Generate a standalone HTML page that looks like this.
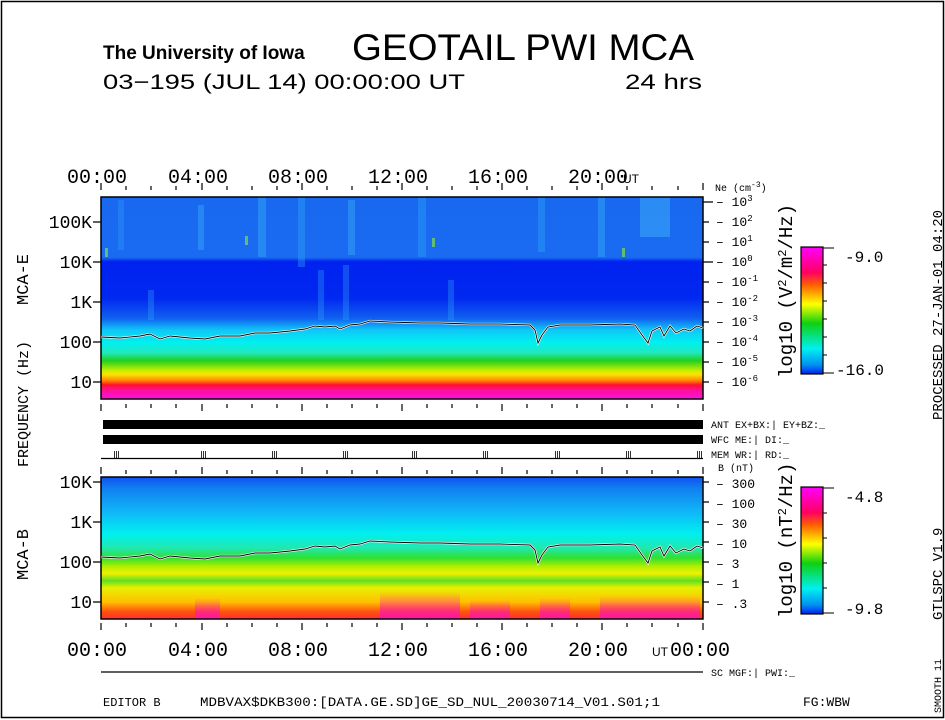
<!DOCTYPE html>
<html><head><meta charset="utf-8"><style>
html,body{margin:0;padding:0;background:#fff;}
svg{display:block;}
text{font-family:"Liberation Sans",sans-serif;fill:#000;}
.m text, text.m{font-family:"Liberation Mono",monospace;}
</style></head><body>
<svg width="945" height="720" viewBox="0 0 945 720" xmlns="http://www.w3.org/2000/svg">
<defs>
<linearGradient id="gE" x1="0" y1="0" x2="0" y2="1">
<stop offset="0" stop-color="#1868f0"/>
<stop offset="0.3" stop-color="#1a6af2"/>
<stop offset="0.32" stop-color="#0022f0"/>
<stop offset="0.5" stop-color="#0028f0"/>
<stop offset="0.6" stop-color="#1060f0"/>
<stop offset="0.66" stop-color="#10c8f8"/>
<stop offset="0.72" stop-color="#00f0f0"/>
<stop offset="0.77" stop-color="#20e8c0"/>
<stop offset="0.81" stop-color="#20d020"/>
<stop offset="0.86" stop-color="#c8f000"/>
<stop offset="0.88" stop-color="#ffe000"/>
<stop offset="0.91" stop-color="#ff8000"/>
<stop offset="0.93" stop-color="#ff1030"/>
<stop offset="0.96" stop-color="#ff10a0"/>
<stop offset="1" stop-color="#ff10e0"/>
</linearGradient>
<linearGradient id="gB" x1="0" y1="0" x2="0" y2="1">
<stop offset="0" stop-color="#1050f0"/>
<stop offset="0.08" stop-color="#1080f0"/>
<stop offset="0.25" stop-color="#10b8f8"/>
<stop offset="0.4" stop-color="#00f0f0"/>
<stop offset="0.5" stop-color="#20e8b0"/>
<stop offset="0.57" stop-color="#30e030"/>
<stop offset="0.63" stop-color="#b0f000"/>
<stop offset="0.68" stop-color="#f0f000"/>
<stop offset="0.73" stop-color="#60e020"/>
<stop offset="0.78" stop-color="#e8f000"/>
<stop offset="0.88" stop-color="#ffc000"/>
<stop offset="0.95" stop-color="#ff5010"/>
<stop offset="1" stop-color="#ff3030"/>
</linearGradient>
<linearGradient id="cb" x1="0" y1="0" x2="0" y2="1">
<stop offset="0" stop-color="#ff00ff"/>
<stop offset="0.2" stop-color="#ff0060"/>
<stop offset="0.3" stop-color="#ff6000"/>
<stop offset="0.45" stop-color="#ffff00"/>
<stop offset="0.6" stop-color="#10d010"/>
<stop offset="0.8" stop-color="#00f0f0"/>
<stop offset="0.93" stop-color="#0090f0"/>
<stop offset="1" stop-color="#0020f0"/>
</linearGradient>
<linearGradient id="fade" x1="0" y1="0" x2="0" y2="1">
<stop offset="0" stop-color="#ff10c0" stop-opacity="0"/>
<stop offset="1" stop-color="#ff10c0" stop-opacity="0.85"/>
</linearGradient>
</defs>
<rect x="1.5" y="1.5" width="942" height="716" fill="none" stroke="#000" stroke-width="1.5"/>

<text x="103" y="59" font-size="19" font-weight="bold">The University of Iowa</text>
<text x="352" y="60" font-size="37" textLength="342" lengthAdjust="spacingAndGlyphs" style="font-weight:normal">GEOTAIL  PWI  MCA</text>
<text x="103" y="89" font-size="21" textLength="362" lengthAdjust="spacingAndGlyphs">03−195 (JUL 14) 00:00:00  UT</text>
<text x="625" y="89" font-size="21" textLength="77" lengthAdjust="spacingAndGlyphs">24 hrs</text>

<!-- top panel -->
<rect x="101" y="197" width="602" height="202" fill="url(#gE)"/>
<g opacity="0.35">
<rect x="258" y="197" width="8" height="60" fill="#40c0f8"/>
<rect x="298" y="197" width="7" height="70" fill="#30b0f8"/>
<rect x="118" y="200" width="6" height="50" fill="#30a0f8"/>
<rect x="198" y="205" width="6" height="45" fill="#40c0f8"/>
<rect x="348" y="200" width="7" height="55" fill="#40c0f8"/>
<rect x="418" y="197" width="8" height="60" fill="#30b0f8"/>
<rect x="538" y="197" width="7" height="55" fill="#30b0f8"/>
<rect x="598" y="197" width="7" height="60" fill="#40c0f8"/>
<rect x="640" y="197" width="30" height="40" fill="#50d0f8"/>
<rect x="318" y="270" width="6" height="50" fill="#30a0f8"/>
<rect x="343" y="265" width="6" height="55" fill="#30a0f8"/>
<rect x="148" y="290" width="6" height="30" fill="#30a0f8"/>
<rect x="448" y="280" width="6" height="40" fill="#30a0f8"/>
</g>
<rect x="105" y="248" width="3" height="9" fill="#80e040" opacity="0.7"/>
<rect x="245" y="236" width="3" height="9" fill="#80e040" opacity="0.7"/>
<rect x="432" y="238" width="3" height="9" fill="#80e040" opacity="0.7"/>
<rect x="622" y="248" width="3" height="9" fill="#80e040" opacity="0.7"/>
<rect x="101" y="197" width="602" height="202" fill="none" stroke="#000" stroke-width="1.5"/>
<g id="L">
<polyline fill="none" stroke="#fff" stroke-width="2.2" points="101,337 120,338 140,336 150,334 160,339 170,336 190,338 205,339 220,336 240,336 255,333 270,333 290,331 305,329 315,326 325,327 335,326 340,329 350,325 360,324 370,321 390,322 420,323 440,323 470,324 500,324 530,325 535,330 538,343 542,335 548,327 560,325 590,325 620,324 635,325 642,335 648,343 652,331 660,327 664,336 670,326 676,333 684,329 690,331 697,326 703,328"/>
<polyline fill="none" stroke="#000" stroke-width="0.9" points="101,337 120,338 140,336 150,334 160,339 170,336 190,338 205,339 220,336 240,336 255,333 270,333 290,331 305,329 315,326 325,327 335,326 340,329 350,325 360,324 370,321 390,322 420,323 440,323 470,324 500,324 530,325 535,330 538,343 542,335 548,327 560,325 590,325 620,324 635,325 642,335 648,343 652,331 660,327 664,336 670,326 676,333 684,329 690,331 697,326 703,328"/>
</g>

<!-- bottom panel -->
<rect x="101" y="477" width="602" height="142" fill="url(#gB)"/>
<g>
<rect x="380" y="592" width="80" height="27" fill="url(#fade)"/>
<rect x="600" y="596" width="100" height="23" fill="url(#fade)"/>
<rect x="195" y="598" width="25" height="21" fill="url(#fade)"/>
<rect x="470" y="600" width="40" height="19" fill="url(#fade)"/>
<rect x="540" y="598" width="30" height="21" fill="url(#fade)"/>
</g>
<rect x="101" y="477" width="602" height="142" fill="none" stroke="#000" stroke-width="1.5"/>
<use href="#L" transform="translate(0,220)"/>

<!-- time ticks -->
<g stroke="#000" stroke-width="1.2">
<path d="M101,190v-7M126,190v-4M151,190v-4M176,190v-4M202,190v-7M227,190v-4M252,190v-4M277,190v-4M302,190v-7M327,190v-4M352,190v-4M377,190v-4M402,190v-7M427,190v-4M452,190v-4M477,190v-4M502,190v-7M527,190v-4M552,190v-4M577,190v-4M602,190v-7M627,190v-4M652,190v-4M678,190v-4M703,190v-7"/>
<path d="M101,404v7M126,404v4M151,404v4M176,404v4M202,404v7M227,404v4M252,404v4M277,404v4M302,404v7M327,404v4M352,404v4M377,404v4M402,404v7M427,404v4M452,404v4M477,404v4M502,404v7M527,404v4M552,404v4M577,404v4M602,404v7M627,404v4M652,404v4M678,404v4M703,404v7"/>
<path d="M101,474v-7M126,474v-4M151,474v-4M176,474v-4M202,474v-7M227,474v-4M252,474v-4M277,474v-4M302,474v-7M327,474v-4M352,474v-4M377,474v-4M402,474v-7M427,474v-4M452,474v-4M477,474v-4M502,474v-7M527,474v-4M552,474v-4M577,474v-4M602,474v-7M627,474v-4M652,474v-4M678,474v-4M703,474v-7"/>
<path d="M101,623v7M126,623v4M151,623v4M176,623v4M202,623v7M227,623v4M252,623v4M277,623v4M302,623v7M327,623v4M352,623v4M377,623v4M402,623v7M427,623v4M452,623v4M477,623v4M502,623v7M527,623v4M552,623v4M577,623v4M602,623v7M627,623v4M652,623v4M678,623v4M703,623v7"/>
<path d="M93,222h8M93,262h8M93,302h8M93,342h8M93,382h8M93,482h8M93,522h8M93,562h8M93,602h8"/>
<path d="M703,202h10M703,222h6M703,242h6M703,262h10M703,282h6M703,302h6M703,322h6M703,342h6M703,362h6M703,382h6M703,482h6M703,502h6M703,522h6M703,542h6M703,562h6M703,582h6M703,602h6"/>
<path d="M101,458.5h602"/>
<path d="M101,672h602"/>
</g>
<g stroke="#000" stroke-width="0.8"><path d="M114.5,451v7M116.5,451v7M118.5,451v7M201.5,451v7M203.5,451v7M205.5,451v7M272.5,451v7M274.5,451v7M276.5,451v7M343.5,451v7M345.5,451v7M347.5,451v7M412.5,451v7M414.5,451v7M416.5,451v7M483.5,451v7M485.5,451v7M487.5,451v7M555.5,451v7M557.5,451v7M559.5,451v7M626.5,451v7M628.5,451v7M630.5,451v7M697.5,451v7M699.5,451v7M701.5,451v7"/></g>
<g font-size="20" class="m">
<text x="67" y="183">00:00</text><text x="168" y="183">04:00</text><text x="268" y="183">08:00</text><text x="368" y="183">12:00</text><text x="468" y="183">16:00</text><text x="568" y="183">20:00</text>
<text x="67" y="656">00:00</text><text x="168" y="656">04:00</text><text x="268" y="656">08:00</text><text x="368" y="656">12:00</text><text x="468" y="656">16:00</text><text x="568" y="656">20:00</text><text x="670" y="656">00:00</text>
</g>
<text x="623" y="183" font-size="12">UT</text>
<text x="652" y="656" font-size="12">UT</text>
<g font-size="18" text-anchor="end" class="m">
<text x="92" y="228">100K</text><text x="92" y="268">10K</text><text x="92" y="308">1K</text><text x="92" y="348">100</text><text x="92" y="388">10</text>
<text x="92" y="488">10K</text><text x="92" y="528">1K</text><text x="92" y="568">100</text><text x="92" y="608">10</text>
</g>
<g font-size="17" class="m">
<text transform="translate(28,305) rotate(-90)">MCA-E</text>
<text transform="translate(28,467) rotate(-90)" font-size="15">FREQUENCY (Hz)</text>
<text transform="translate(28,580) rotate(-90)">MCA-B</text>
</g>
<rect x="103" y="420" width="600" height="9" fill="#000"/>
<rect x="103" y="435" width="600" height="9" fill="#000"/>
<g font-size="10" class="m">
<text x="711" y="428">ANT EX+BX:| EY+BZ:_</text>
<text x="711" y="443">WFC ME:|    DI:_</text>
<text x="711" y="458">MEM WR:|    RD:_</text>
<text x="711" y="676">SC MGF:|    PWI:_</text>
<text x="715" y="191">Ne (cm<tspan dy="-4" font-size="8">-3</tspan><tspan dy="4">)</tspan></text>
<text x="718" y="471">B (nT)</text>
</g>
<g font-size="13" class="m">
<text x="716" y="206">– 10<tspan dy="-5" font-size="9">3</tspan></text>
<text x="716" y="226">– 10<tspan dy="-5" font-size="9">2</tspan></text>
<text x="716" y="246">– 10<tspan dy="-5" font-size="9">1</tspan></text>
<text x="716" y="266">– 10<tspan dy="-5" font-size="9">0</tspan></text>
<text x="716" y="286">– 10<tspan dy="-5" font-size="9">-1</tspan></text>
<text x="716" y="306">– 10<tspan dy="-5" font-size="9">-2</tspan></text>
<text x="716" y="326">– 10<tspan dy="-5" font-size="9">-3</tspan></text>
<text x="716" y="346">– 10<tspan dy="-5" font-size="9">-4</tspan></text>
<text x="716" y="366">– 10<tspan dy="-5" font-size="9">-5</tspan></text>
<text x="716" y="386">– 10<tspan dy="-5" font-size="9">-6</tspan></text>
<text x="716" y="488">– 300</text><text x="716" y="508">– 100</text>
<text x="716" y="528">–  30</text><text x="716" y="548">–  10</text>
<text x="716" y="568">–   3</text><text x="716" y="588">–   1</text>
<text x="716" y="608">–  .3</text>
</g>
<rect x="801" y="247" width="22" height="127" fill="url(#cb)" stroke="#000" stroke-width="1.2"/>
<rect x="801" y="487" width="22" height="127" fill="url(#cb)" stroke="#000" stroke-width="1.2"/>
<g stroke="#000" stroke-width="1"><path d="M823,248h11M823,265h4M823,283h4M823,301h4M823,319h4M823,337h4M823,355h4M823,373h11M823,488h11M823,513h4M823,538h4M823,563h4M823,588h4M823,613h11"/></g>
<g font-size="16" class="m">
<text x="845" y="262">-9.0</text><text x="836" y="375">-16.0</text>
<text x="845" y="502">-4.8</text><text x="845" y="614">-9.8</text>
<text transform="translate(792,378) rotate(-90)" font-size="19">log10 (V<tspan dy="-6" font-size="12">2</tspan><tspan dy="6">/m</tspan><tspan dy="-6" font-size="12">2</tspan><tspan dy="6">/Hz)</tspan></text>
<text transform="translate(792,618) rotate(-90)" font-size="19">log10 (nT<tspan dy="-6" font-size="12">2</tspan><tspan dy="6">/Hz)</tspan></text>
</g>
<g font-size="14" class="m">
<text transform="translate(942,420) rotate(-90)">PROCESSED 27-JAN-01  04:20</text>
<text transform="translate(942,620) rotate(-90)">GTLSPC   V1.9</text>
<text transform="translate(941,713) rotate(-90)" font-size="10">SMOOTH 11</text>
<text x="103" y="706" font-size="12">EDITOR B</text>
<text x="200" y="706" font-size="13" textLength="460" lengthAdjust="spacingAndGlyphs">MDBVAX$DKB300:[DATA.GE.SD]GE_SD_NUL_20030714_V01.S01;1</text>
<text x="803" y="706" font-size="13">FG:WBW</text>
</g>
</svg>
</body></html>
